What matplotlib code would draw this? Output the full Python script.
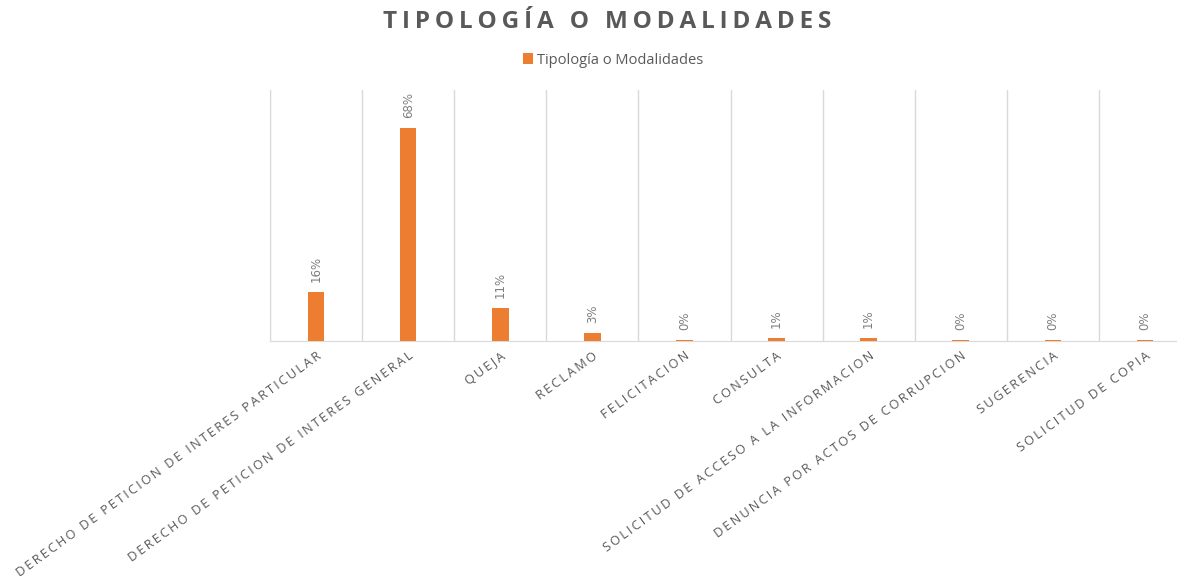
import matplotlib
matplotlib.use("Agg")
import matplotlib.pyplot as plt
import numpy as np

# data
categorias = [
    "DERECHO DE PETICION DE INTERES PARTICULAR",
    "DERECHO DE PETICION DE INTERES GENERAL",
    "QUEJA",
    "RECLAMO",
    "FELICITACION",
    "CONSULTA",
    "SOLICITUD DE ACCESO A LA INFORMACION",
    "DENUNCIA POR ACTOS DE CORRUPCION",
    "SUGERENCIA",
    "SOLICITUD DE COPIA",
]
valores = [0.157, 0.68, 0.106, 0.026, 0.003, 0.010, 0.010, 0.003, 0.003, 0.003]
serie = "Tipología o Modalidades"
titulo = "TIPOLOGÍA O MODALIDADES"

NARANJA = "#ED7D31"
GRIS_TXT = "#595959"
GRIS_GRID = "#D9D9D9"
FAM = ["Open Sans", "DejaVu Sans"]


def espaciar(s, sep="\u200a"):
    # imitate Excel letter spacing
    return sep.join(s)


fig = plt.figure(figsize=(11.77, 5.76), dpi=100)
ax = fig.add_axes([270 / 1177, 1 - 341 / 576, 921 / 1177, (341 - 90) / 576])

x = np.arange(len(categorias))
bars = ax.bar(x, valores, width=0.18, color=NARANJA, zorder=3)

ax.set_xlim(-0.5, len(categorias) - 0.5)
ax.set_ylim(0, 0.80)
ax.set_yticks([])

# vertical gridlines on category boundaries
ax.set_xticks(np.arange(-0.5, len(categorias), 1.0), minor=True)
ax.grid(which="minor", axis="x", color=GRIS_GRID, linewidth=1)
ax.tick_params(which="minor", length=0)
ax.tick_params(which="major", length=0, pad=6)

for s in ["top", "right"]:
    ax.spines[s].set_visible(False)
ax.spines["left"].set_color(GRIS_GRID)
ax.spines["bottom"].set_color(GRIS_GRID)

ax.set_xticks(x)
ax.set_xticklabels([espaciar(c, "\u2009") for c in categorias], rotation=36,
                   ha="right", va="top", rotation_mode="anchor",
                   fontsize=9.2, color=GRIS_TXT, family=FAM)

# data labels
for xi, v in zip(x, valores):
    ax.annotate(f"{v:.0%}", (xi, v), xytext=(0, 7), textcoords="offset points",
                rotation=90, ha="center", va="bottom", fontsize=8.5,
                color="#7F7F7F", family=["Liberation Sans Narrow", "DejaVu Sans"])

fig.text(607 / 1177, 1 - 22 / 576, espaciar(titulo, "\u2009"), ha="center", va="center",
         fontsize=17.5, fontweight="bold", color=GRIS_TXT, family=FAM)

leg = fig.legend([bars], [serie], loc="center", bbox_to_anchor=(613 / 1177, 1 - 60 / 576),
                 frameon=False, fontsize=10.5, handlelength=0.7, handleheight=0.7,
                 handletextpad=0.3)
for t in leg.get_texts():
    t.set_color(GRIS_TXT)
    t.set_family(FAM)

fig.savefig("out.png", dpi=100, facecolor="white")
